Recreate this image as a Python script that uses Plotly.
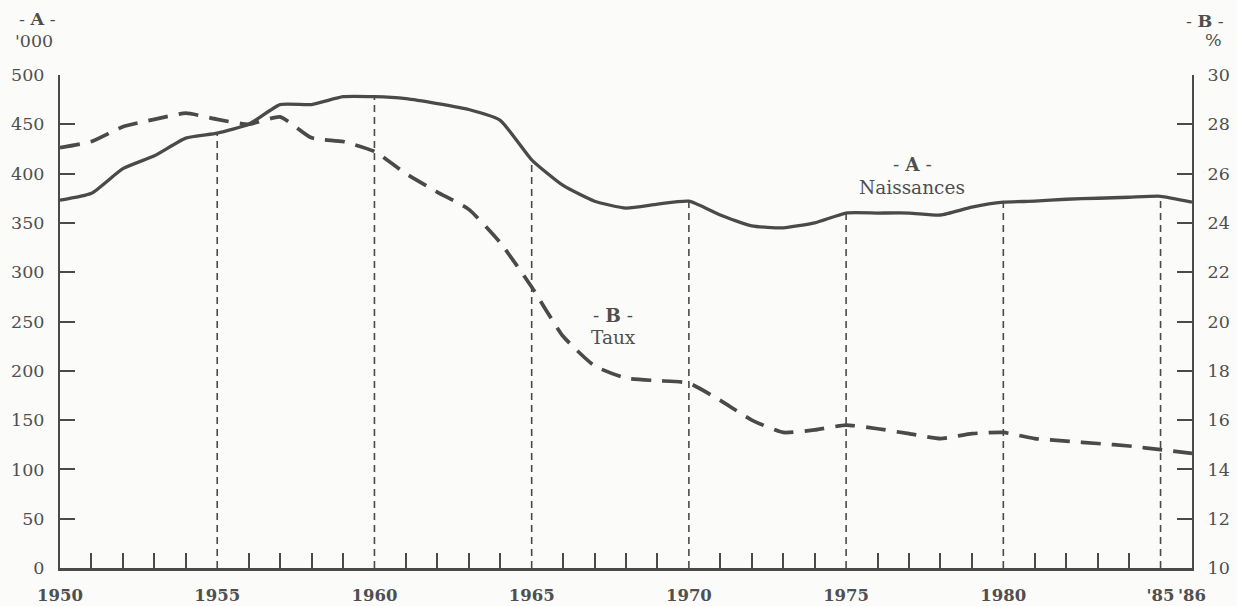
import plotly.graph_objects as go

# Annual series, 1950-1986
years = list(range(1950, 1987))
naissances = [373, 380, 405, 418, 436, 441, 450, 470, 470, 478, 478, 476, 471, 465,
              454, 414, 388, 372, 365, 369, 372, 358, 347, 345, 350, 360, 360, 360,
              358, 366, 371, 372, 374, 375, 376, 377, 371]          # '000
taux = [27.05, 27.3, 27.9, 28.2, 28.45, 28.2, 28.0, 28.3, 27.45, 27.3, 26.9, 26.0,
        25.25, 24.55, 23.2, 21.4, 19.4, 18.2, 17.7, 17.6, 17.5, 16.8, 16.0, 15.5,
        15.6, 15.8, 15.65, 15.45, 15.25, 15.45, 15.5, 15.25, 15.15, 15.05, 14.95,
        14.8, 14.65]                                                 # %

label_years = [1950, 1955, 1960, 1965, 1970, 1975, 1980, 1985, 1986]
label_text = ["1950", "1955", "1960", "1965", "1970", "1975", "1980", "'85", "'86"]
marker_years = [1955, 1960, 1965, 1970, 1975, 1980, 1985]
left_ticks = list(range(0, 501, 50))
right_ticks = list(range(10, 31, 2))

INK = "#4a4a4a"
TXT = "#4f4f4f"
FONT = "DejaVu Serif"
W, H = 1237, 606
ML, MR, MT, MB = 60, 45, 75, 38

fig = go.Figure()

# dashed guides from the axis up to the births curve
vx, vy = [], []
for yr in marker_years:
    v = naissances[years.index(yr)]
    vx += [yr, yr, None]
    vy += [0, v, None]
fig.add_trace(go.Scatter(x=vx, y=vy, mode="lines",
                         line=dict(color=INK, width=1.6, dash="7px,5px"),
                         hoverinfo="skip", showlegend=False))

fig.add_trace(go.Scatter(x=years, y=naissances, mode="lines", name="Naissances",
                         line=dict(color=INK, width=3.3, shape="spline", smoothing=0.5),
                         showlegend=False))

fig.add_trace(go.Scatter(x=years, y=taux, mode="lines", name="Taux", yaxis="y2",
                         line=dict(color=INK, width=3.7, dash="20px,11px",
                                   shape="spline", smoothing=0.5),
                         showlegend=False))

fig.update_layout(
    width=W, height=H,
    margin=dict(l=ML, r=MR, t=MT, b=MB, autoexpand=False),
    paper_bgcolor="#fbfbfa", plot_bgcolor="#fbfbfa",
    font=dict(family=FONT, color=TXT, size=17),
    xaxis=dict(range=[1950, 1986], showgrid=False, zeroline=False, automargin=False,
               showline=True, linecolor=INK, linewidth=3,
               tickvals=label_years, ticktext=label_text, ticks="",
               tickfont=dict(family=FONT, size=16.5, color=TXT, weight="bold"),
               minor=dict(tickvals=[y for y in years[1:-1] if y % 5],
                          ticks="inside", ticklen=15, tickwidth=2, tickcolor=INK),
               ticklabelstandoff=10),
    yaxis=dict(range=[0, 500], showgrid=False, zeroline=False, automargin=False,
               showline=True, linecolor=INK, linewidth=2,
               tickvals=left_ticks, ticks="inside", ticklen=15, tickwidth=2,
               tickcolor=INK, ticklabelstandoff=10,
               tickfont=dict(family=FONT, size=17.5, color=TXT)),
    yaxis2=dict(range=[10, 30], overlaying="y", side="right", showgrid=False,
                zeroline=False, showline=True, linecolor=INK, linewidth=2,
                automargin=False,
                tickvals=right_ticks, ticks="inside", ticklen=15, tickwidth=2,
                tickcolor=INK, ticklabelstandoff=10,
                tickfont=dict(family=FONT, size=17.5, color=TXT)),
)

annots = [
    dict(x=1977.1, y=409, text="- <b>A</b> -"),
    dict(x=1977.1, y=386, text="Naissances"),
    dict(x=1967.6, y=256, text="- <b>B</b> -"),
    dict(x=1967.6, y=234, text="Taux"),
]
for a in annots:
    fig.add_annotation(xref="x", yref="y", showarrow=False,
                       xanchor="center", yanchor="middle",
                       font=dict(family=FONT, size=18.5, color=TXT), **a)

# axis headers, placed by pixel position within the page
headers = [
    dict(px=37, py=19, text="- <b>A</b> -"),
    dict(px=34, py=41, text="'000"),
    dict(px=1205, py=21, text="- <b>B</b> -"),
    dict(px=1213, py=40, text="%"),
]
pw, ph = W - ML - MR, H - MT - MB
for h in headers:
    fig.add_annotation(xref="paper", yref="paper", showarrow=False,
                       xanchor="center", yanchor="middle",
                       font=dict(family=FONT, size=17.5, color=TXT),
                       x=(h["px"] - ML) / pw,
                       y=(H - MB - h["py"]) / ph,
                       text=h["text"])

fig.write_html("out.html")
